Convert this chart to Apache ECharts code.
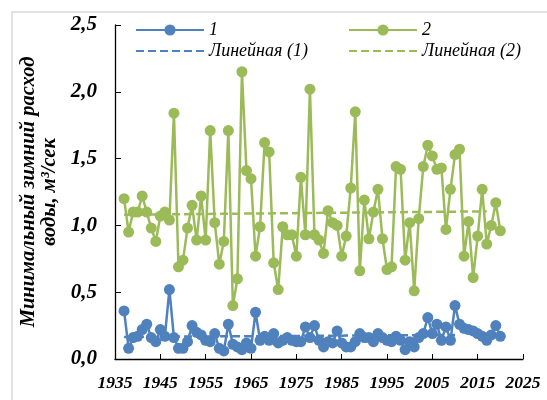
<!DOCTYPE html>
<html><head><meta charset="utf-8">
<script src="https://cdn.jsdelivr.net/npm/echarts@6/dist/echarts.min.js"></script>
<style>html,body{margin:0;padding:0;background:#fff}#c{width:547px;height:400px}</style>
</head><body><div id="c"></div>
<script>
const years = [1937,1938,1939,1940,1941,1942,1943,1944,1945,1946,1947,1948,1949,1950,1951,1952,1953,1954,1955,1956,1957,1958,1959,1960,1961,1962,1963,1964,1965,1966,1967,1968,1969,1970,1971,1972,1973,1974,1975,1976,1977,1978,1979,1980,1981,1982,1983,1984,1985,1986,1987,1988,1989,1990,1991,1992,1993,1994,1995,1996,1997,1998,1999,2000,2001,2002,2003,2004,2005,2006,2007,2008,2009,2010,2011,2012,2013,2014,2015,2016,2017,2018,2019,2020];
const series1 = [0.36,0.08,0.16,0.17,0.22,0.26,0.16,0.13,0.22,0.17,0.52,0.16,0.08,0.08,0.13,0.25,0.20,0.18,0.14,0.13,0.19,0.08,0.06,0.26,0.11,0.09,0.07,0.12,0.08,0.35,0.14,0.17,0.14,0.19,0.12,0.14,0.16,0.14,0.13,0.13,0.24,0.16,0.25,0.14,0.09,0.13,0.12,0.21,0.12,0.09,0.09,0.13,0.19,0.16,0.16,0.13,0.19,0.16,0.14,0.13,0.17,0.14,0.07,0.13,0.09,0.16,0.19,0.31,0.19,0.26,0.14,0.24,0.14,0.40,0.26,0.23,0.22,0.21,0.19,0.17,0.14,0.18,0.25,0.17];
const series2 = [1.20,0.95,1.10,1.10,1.22,1.10,0.98,0.88,1.07,1.10,1.04,1.84,0.69,0.74,0.98,1.15,0.89,1.22,0.89,1.71,1.02,0.71,0.88,1.71,0.40,0.60,2.15,1.41,1.35,0.77,0.99,1.62,1.55,0.72,0.52,0.99,0.93,0.93,0.77,1.36,0.93,2.02,0.93,0.89,0.79,1.11,1.02,1.00,0.77,0.92,1.28,1.85,0.66,1.19,0.90,1.10,1.27,0.90,0.67,0.69,1.44,1.42,0.74,1.02,0.51,1.05,1.44,1.60,1.52,1.42,1.43,0.97,1.27,1.53,1.57,0.77,1.03,0.61,0.92,1.27,0.86,1.00,1.17,0.96];
const trend1Years = [1937, 2010];
const trend1 = [0.165, 0.18];
const trend2Years = [1937, 2017];
const trend2 = [1.08, 1.105];
const xTicks = [1935,1945,1955,1965,1975,1985,1995,2005,2015,2025];
const names = ['1','2','Линейная (1)','Линейная (2)'];
const yTitle = 'Минимальный зимний расход\nводы, м³/сек';

const X0 = xTicks[0];
const pairs = (xs, vs) => xs.map((x,i)=>[x - X0, vs[i]]);
const BLUE = '#4f81bd', GREEN = '#9bbb59';
const FONT = 'Liberation Serif';
const legText = {fontFamily:FONT, fontStyle:'italic', fontSize:18, lineHeight:20, color:'#000'};

const chart = echarts.init(document.getElementById('c'), null, {renderer:'canvas'});
chart.setOption({
  animation:false,
  backgroundColor:'#fff',
  graphic:[{type:'rect', shape:{x:12,y:12,width:700,height:600}, style:{fill:'none', stroke:'#d9d9d9', lineWidth:1.5}, silent:true, z:-10}],
  grid:{left:115, top:25, right:24, bottom:41, containLabel:false},
  legend:[
    {data:[names[0], {name:names[2], itemStyle:{opacity:0}}], orient:'vertical', left:130, top:15, itemWidth:68, itemHeight:14, itemGap:1, textStyle:legText},
    {data:[names[1], {name:names[3], itemStyle:{opacity:0}}], orient:'vertical', left:343, top:15, itemWidth:68, itemHeight:14, itemGap:1, textStyle:legText}
  ],
  xAxis:{type:'value', min:0, max:xTicks[xTicks.length-1]-X0, interval:10,
    axisLine:{lineStyle:{color:'#000', width:1.3}},
    axisTick:{inside:true, length:5, lineStyle:{color:'#000'}},
    splitLine:{show:false},
    axisLabel:{formatter:v=>String(v+X0), fontFamily:FONT, fontWeight:'bold', fontStyle:'italic', fontSize:17.5, color:'#000', margin:15}
  },
  yAxis:{type:'value', min:0, max:2.5, interval:0.5,
    name:yTitle, nameLocation:'middle', nameRotate:90, nameGap:42,
    nameTextStyle:{fontFamily:FONT, fontWeight:'bold', fontStyle:'italic', fontSize:20.5, color:'#000', lineHeight:21, align:'center'},
    axisLine:{show:true, lineStyle:{color:'#000', width:1.3}},
    axisTick:{show:true, inside:true, length:6, lineStyle:{color:'#000'}},
    splitLine:{show:false},
    axisLabel:{formatter:v=>v.toFixed(1).replace('.',','), fontFamily:FONT, fontWeight:'bold', fontStyle:'italic', fontSize:21, color:'#000', margin:18}
  },
  series:[
    {name:names[0], type:'line', data:pairs(years, series1), symbol:'circle', symbolSize:11,
     itemStyle:{color:BLUE}, lineStyle:{color:BLUE, width:2.5}, z:3},
    {name:names[1], type:'line', data:pairs(years, series2), symbol:'circle', symbolSize:11,
     itemStyle:{color:GREEN}, lineStyle:{color:GREEN, width:2.5}, z:3},
    {name:names[2], type:'line', data:pairs(trend1Years, trend1), symbol:'none',
     itemStyle:{color:BLUE}, lineStyle:{color:BLUE, width:2.5, type:[8,4]}, z:5},
    {name:names[3], type:'line', data:pairs(trend2Years, trend2), symbol:'none',
     itemStyle:{color:GREEN}, lineStyle:{color:GREEN, width:2.5, type:[8,4]}, z:5}
  ]
});
</script></body></html>
